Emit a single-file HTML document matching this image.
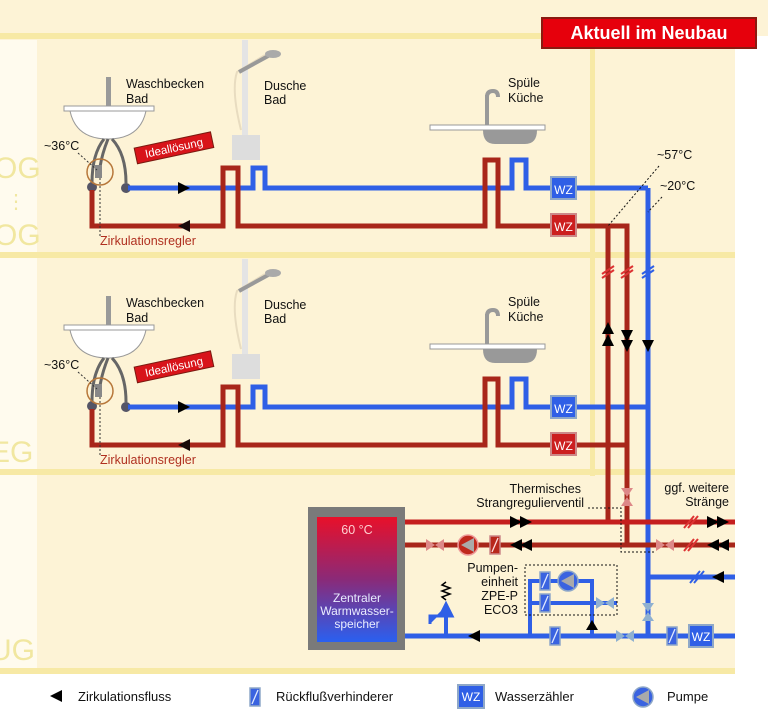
<!DOCTYPE html>
<html><head><meta charset="utf-8"><style>
html,body{margin:0;padding:0;background:#fff}
svg{display:block;font-family:"Liberation Sans",sans-serif}
</style></head><body>
<svg width="768" height="710" viewBox="0 0 768 710" xmlns="http://www.w3.org/2000/svg">
<defs>
<g id="chk"><rect x="-5" y="-9" width="10" height="18" fill="#3a63e0" stroke="#8fa8c8" stroke-width="1.5"/><line x1="-3" y1="7" x2="3" y2="-7" stroke="#dfe8ff" stroke-width="1.3"/></g>
<g id="chkr"><rect x="-5" y="-9" width="10" height="18" fill="#b8281c" stroke="#c88" stroke-width="1.5"/><line x1="-3" y1="7" x2="3" y2="-7" stroke="#fdd" stroke-width="1.3"/></g>
<g id="pump"><circle r="10" fill="#3a63e0" stroke="#8fa8c8" stroke-width="1.5"/><polygon points="-7,0 6,-7 6,7" fill="#aaa"/></g>
<g id="pumpr"><circle r="10" fill="#c0281c" stroke="#e99" stroke-width="1.5"/><polygon points="-7,0 6,-7 6,7" fill="#aaa"/></g>
<g id="vlvb"><polygon points="-9,-6 0,0 -9,6" fill="#8fb0d0"/><polygon points="9,-6 0,0 9,6" fill="#8fb0d0"/></g>
<g id="vlvr"><polygon points="-9,-6 0,0 -9,6" fill="#d88"/><polygon points="9,-6 0,0 9,6" fill="#d88"/></g>
<g id="sink"><rect x="-2" y="-32" width="5" height="30" fill="#999"/><rect x="-44" y="-3" width="90" height="5" fill="#fff" stroke="#999"/><path d="M-38,2 Q-32,30 0,30 Q32,30 38,2 Z" fill="#fff" stroke="#999"/><path d="M-4,30 Q-16,45 -16,74 M4,30 Q18,45 18,74 M0,30 Q-6,45 -8,58" stroke="#666" stroke-width="3" fill="none"/><circle cx="-16" cy="78" r="5" fill="#556"/><circle cx="18" cy="79" r="5" fill="#556"/><rect x="-13" y="56" width="7" height="13" fill="#888"/><circle cx="-8" cy="63" r="13" fill="none" stroke="#b7773a" stroke-width="1.5"/></g>
<g id="ksink"><path d="M2,-30 Q2,-36 8,-36 Q13,-36 13,-30" stroke="#999" stroke-width="4" fill="none"/><rect x="0" y="-32" width="4" height="30" fill="#999"/><rect x="-55" y="-2" width="115" height="5" fill="#fff" stroke="#999"/><path d="M-2,3 L52,3 Q52,17 40,17 L10,17 Q-2,17 -2,3Z" fill="#999"/></g>
<g id="shower"><rect x="-3" y="-120" width="6" height="120" fill="#e4e4e4"/><rect x="-13" y="-25" width="28" height="25" fill="#ddd"/><path d="M-4,-30 Q-14,-70 -8,-88 L20,-105" stroke="#e8dcc0" stroke-width="2" fill="none"/><path d="M-6,-88 L25,-105" stroke="#999" stroke-width="4"/><ellipse cx="28" cy="-106" rx="8" ry="4" fill="#aaa"/></g>
</defs>
<rect width="768" height="710" fill="#fff"/>
<rect x="0" y="0" width="768" height="36" fill="#fdf3d6"/>
<rect x="0" y="36" width="735" height="636" fill="#fdf3d6"/>
<rect x="0" y="40" width="37" height="628" fill="#fffbee"/>
<g fill="#f7e9a5"><rect x="0" y="33" width="735" height="6"/><rect x="0" y="252" width="735" height="6"/><rect x="0" y="469" width="735" height="6"/><rect x="0" y="668" width="735" height="6"/><rect x="590" y="36" width="5" height="440"/></g>
<g fill="#f1e7a0" font-size="30"><text x="-6" y="178">OG</text><text x="6" y="208" font-size="20">⋮</text><text x="-6" y="245">OG</text><text x="-10" y="462">EG</text><text x="-10" y="660">UG</text></g>

<rect x="542" y="18" width="214" height="30" fill="#e6000c" stroke="#8a1a10" stroke-width="2"/>
<text x="649" y="39" fill="#fff" font-size="18" font-weight="bold" text-anchor="middle">Aktuell im Neubau</text>

<g id="floor">
<use href="#sink" x="108" y="109"/>
<use href="#shower" x="245" y="160"/>
<use href="#ksink" x="485" y="127"/>
<g fill="none" stroke-width="5">
<path d="M128,188 H253 V168 H265 V188 H512 V160 H526 V188 H648" stroke="#2f5fe6"/>
<path d="M92,190 V226 H223 V168 H238 V226 H485 V160 H498 V226 H627 V260" stroke="#a8261a"/>
</g>
<rect x="551" y="177" width="25" height="22" fill="#2f5fe6" stroke="#8fa8c8" stroke-width="2"/><text x="563.5" y="194" fill="#fff" font-size="12" text-anchor="middle">WZ</text>
<rect x="551" y="214" width="25" height="22" fill="#cc1f1f" stroke="#c88" stroke-width="2"/><text x="563.5" y="231" fill="#fff" font-size="12" text-anchor="middle">WZ</text>
<polygon points="178,182 190,188 178,194" fill="#000"/><polygon points="190,220 178,226 190,232" fill="#1a0a0a"/>
<g font-size="12.5" fill="#111"><text x="126" y="88">Waschbecken</text><text x="126" y="103">Bad</text><text x="264" y="90">Dusche</text><text x="264" y="104">Bad</text><text x="508" y="87">Spüle</text><text x="508" y="102">Küche</text><text x="44" y="150">~36°C</text></g>
<text x="100" y="245" font-size="12.5" fill="#b03020">Zirkulationsregler</text>
<path d="M78,153 L97,170 M100,178 V236" stroke="#333" stroke-dasharray="2,2" fill="none"/>
<g transform="rotate(-12 173 148)"><rect x="135" y="140" width="78" height="16" fill="#d8141a" stroke="#7a1a10"/><text x="174" y="152" fill="#fff" font-size="11.5" text-anchor="middle">Ideallösung</text></g>
</g>
<use href="#floor" y="219"/>

<g fill="none" stroke-width="5">
<path d="M608,226 V522" stroke="#a8261a"/><path d="M627,440 V545" stroke="#a8261a"/>
<path d="M648,188 V636" stroke="#2f5fe6"/>
<path d="M400,522 H735" stroke="#c51e1e"/><path d="M400,545 H735" stroke="#a8261a"/>
<path d="M648,577 H735" stroke="#2f5fe6"/><path d="M400,636 H735" stroke="#2f5fe6"/>
<path d="M530,636 V581 H592 V636 M530,603 H617 M446,636 V608" stroke="#2f5fe6" stroke-width="4"/>
</g>
<path d="M608,226 H627 V440" stroke="#a8261a" stroke-width="5" fill="none"/>
<g stroke-width="2" stroke="#d33"><path d="M602,278 L614,270 M602,274 L614,266 M621,278 L633,270 M621,274 L633,266"/></g>
<path d="M642,278 L654,270 M642,274 L654,266" stroke="#2f5fe6" stroke-width="2"/>
<g stroke-width="2"><path d="M684,528 L694,516 M688,528 L698,516 M684,551 L694,539 M688,551 L698,539" stroke="#d33"/><path d="M690,583 L700,571 M694,583 L704,571" stroke="#2f5fe6"/></g>
<g fill="#000"><polygon points="602,346 608,334 614,346"/><polygon points="602,334 608,322 614,334"/><polygon points="621,330 627,342 633,330"/><polygon points="621,340 627,352 633,340"/><polygon points="642,340 648,352 654,340"/>
<polygon points="510,516 522,522 510,528"/><polygon points="520,516 532,522 520,528"/><polygon points="707,516 719,522 707,528"/><polygon points="717,516 729,522 717,528"/>
<polygon points="522,539 510,545 522,551"/><polygon points="532,539 520,545 532,551"/><polygon points="719,539 707,545 719,551"/><polygon points="729,539 717,545 729,551"/>
<polygon points="724,571 712,577 724,583"/><polygon points="480,630 468,636 480,642"/><polygon points="586,630 592,620 598,630"/></g>
<use href="#vlvr" x="435" y="545"/><use href="#pumpr" x="468" y="545"/><use href="#chkr" x="495" y="545"/><use href="#vlvr" x="665" y="545"/>
<use href="#vlvr" x="627" y="497" transform="rotate(90 627 497)"/>
<use href="#vlvb" x="648" y="612" transform="rotate(90 648 612)"/>
<use href="#chk" x="545" y="581"/><use href="#pump" x="568" y="581"/><use href="#chk" x="545" y="603"/><use href="#vlvb" x="605" y="603"/>
<use href="#chk" x="555" y="636"/><use href="#vlvb" x="625" y="636"/><use href="#chk" x="672" y="636"/>
<rect x="689" y="625" width="24" height="22" fill="#2f5fe6" stroke="#8fa8c8" stroke-width="2"/><text x="701" y="641" fill="#fff" font-size="12" text-anchor="middle">WZ</text>
<rect x="525" y="565" width="92" height="50" fill="none" stroke="#111" stroke-dasharray="2,2"/>
<path d="M588,508 H621 V552 H656" fill="none" stroke="#111" stroke-dasharray="2,2"/>
<path d="M446,608 L438,616 H430 V624 M446,604 L440,616 H452 Z" fill="#2f5fe6" stroke="#2f5fe6" stroke-width="3"/>
<path d="M446,600 l-4,-3 l8,-3 l-8,-3 l8,-3 l-8,-3 l4,-3" stroke="#000" stroke-width="1.5" fill="none"/>
<rect x="308" y="507" width="97" height="143" fill="#7a7a7a"/>
<defs><linearGradient id="g" x1="0" y1="0" x2="0" y2="1"><stop offset="0" stop-color="#e8102a"/><stop offset="0.5" stop-color="#8a2a78"/><stop offset="1" stop-color="#2a60f0"/></linearGradient></defs>
<rect x="317" y="517" width="80" height="125" fill="url(#g)"/>
<text x="357" y="534" fill="#ffd0d0" font-size="12.5" text-anchor="middle">60 °C</text>
<g fill="#e8ecff" font-size="12" text-anchor="middle"><text x="357" y="602">Zentraler</text><text x="357" y="615">Warmwasser-</text><text x="357" y="628">speicher</text></g>
<g font-size="12.5" fill="#111" text-anchor="end"><text x="581" y="493">Thermisches</text><text x="584" y="507">Strangregulierventil</text><text x="729" y="492">ggf. weitere</text><text x="729" y="506">Stränge</text><text x="518" y="572">Pumpen-</text><text x="518" y="586">einheit</text><text x="518" y="600">ZPE-P</text><text x="518" y="614">ECO3</text></g>
<g font-size="12.5" fill="#111"><text x="657" y="159">~57°C</text><text x="660" y="190">~20°C</text></g>
<path d="M659,166 L608,226 M662,197 L648,212" stroke="#111" stroke-dasharray="2,2"/>
<polygon points="62,690 50,696 62,702" fill="#000"/>
<g font-size="13" fill="#111"><text x="78" y="701">Zirkulationsfluss</text><text x="276" y="701">Rückflußverhinderer</text><text x="495" y="701">Wasserzähler</text><text x="667" y="701">Pumpe</text></g>
<use href="#chk" x="255" y="697"/>
<rect x="458" y="685" width="26" height="23" fill="#2f5fe6" stroke="#8fa8c8" stroke-width="2"/><text x="471" y="701" fill="#fff" font-size="12" text-anchor="middle">WZ</text>
<use href="#pump" x="643" y="697"/>
</svg>
</body></html>
